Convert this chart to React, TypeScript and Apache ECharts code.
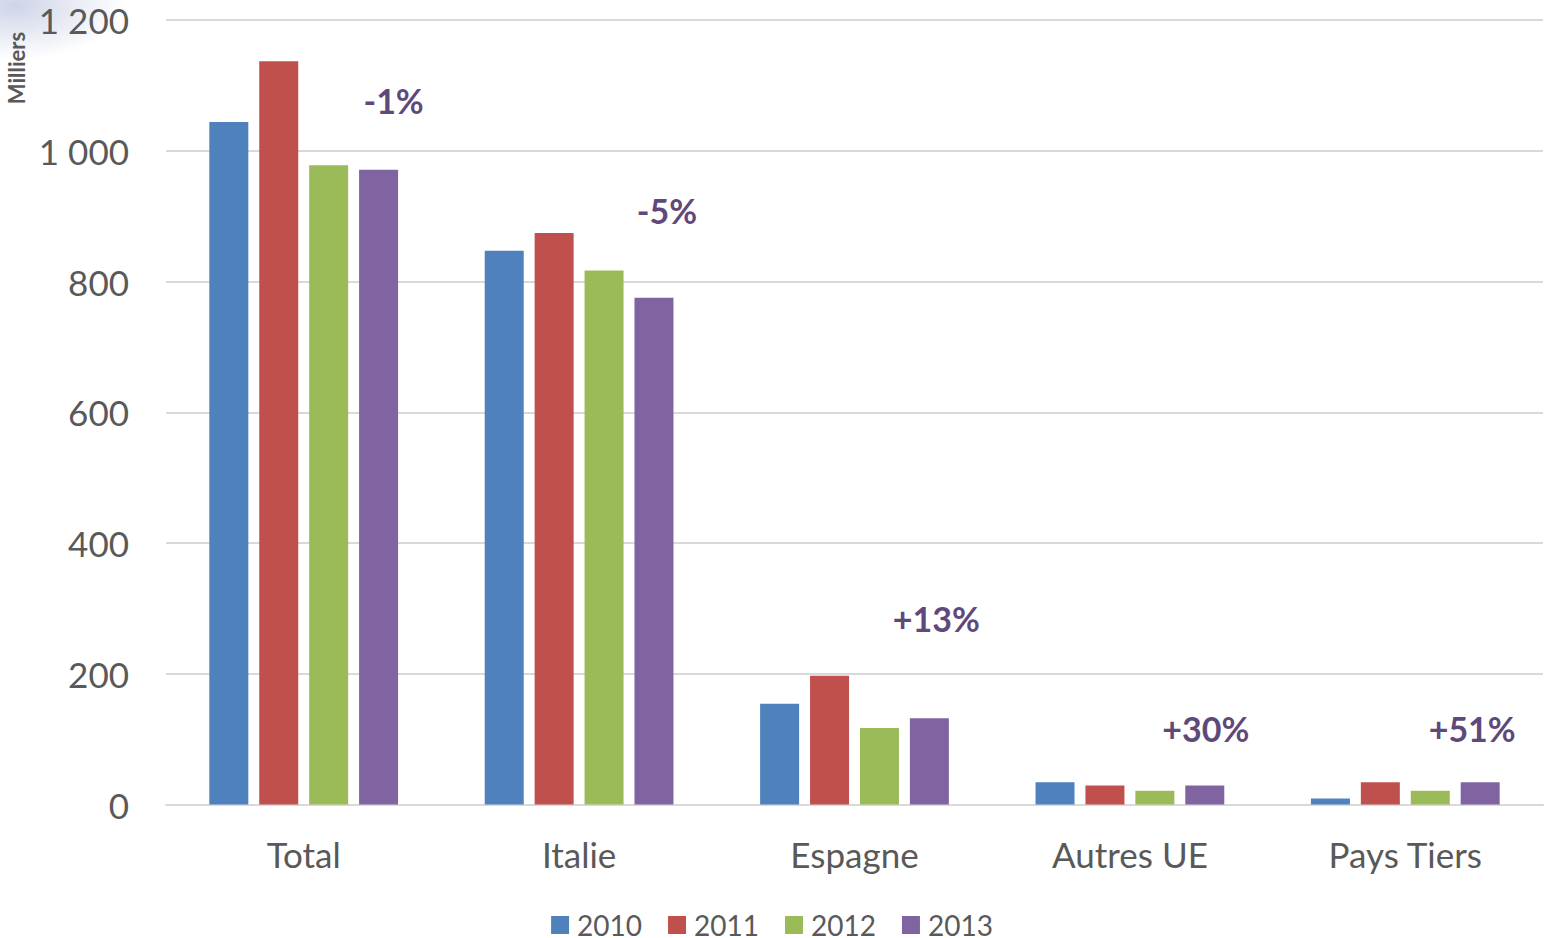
import React, { useEffect, useRef } from "react";
import * as echarts from "echarts";

const categories = ["Total", "Italie", "Espagne", "Autres UE", "Pays Tiers"];
const years = ["2010", "2011", "2012", "2013"];
const values2010 = [1044, 847, 154, 34, 9];
const values2011 = [1137, 874, 197, 29, 34];
const values2012 = [978, 817, 117, 21, 21];
const values2013 = [971, 775, 132, 29, 34];
const changeLabels = ["-1%", "-5%", "+13%", "+30%", "+51%"];
const changeLabelLevels = [1077, 908, 285, 117, 117];
const yTicks = [0, 200, 400, 600, 800, 1000, 1200];

const seriesValues = [values2010, values2011, values2012, values2013];
const colors = ["#4f81bd", "#c0504d", "#9bbb59", "#8064a2"];
const labelDx = [15, 13, 7, 1, -8];
const FONT = "Lato, 'Open Sans', sans-serif";

function fmt(v: number): string {
  return String(v).replace(/\B(?=(\d{3})+(?!\d))/g, " ");
}

export default function App() {
  const ref = useRef<HTMLDivElement>(null);
  useEffect(() => {
    document.body.style.margin = "0";
    if (!ref.current) return;
    const chart = echarts.init(ref.current, null, { renderer: "svg" });
    const series: any[] = seriesValues.map((vals, i) => ({
      name: years[i],
      type: "bar",
      data: vals,
      barWidth: 39,
      barGap: "28%",
      itemStyle: { color: colors[i] },
      z: 2,
    }));
    series[3].markPoint = {
      symbol: "circle",
      symbolSize: 0,
      silent: true,
      label: {
        show: true,
        position: "inside",
        color: "#5f497a",
        fontFamily: FONT,
        fontWeight: "bold",
        fontSize: 34,
        formatter: (p: any) => p.name,
      },
      data: changeLabels.map((t, i) => ({
        name: t,
        coord: [i, changeLabelLevels[i]],
        label: { offset: [labelDx[i], 0] },
      })),
    };
    chart.setOption({
      animation: false,
      backgroundColor: "#ffffff",
      color: colors,
      textStyle: { fontFamily: FONT },
      grid: { left: 166, right: 1, top: 20, bottom: 133.5, containLabel: false },
      legend: {
        data: years,
        left: "center",
        top: 906,
        icon: "rect",
        itemWidth: 18,
        itemHeight: 18,
        itemGap: 26,
        textStyle: { color: "#595959", fontSize: 28, lineHeight: 28, fontFamily: FONT, padding: [0, 0, 0, 3] },
      },
      xAxis: {
        type: "category",
        data: categories,
        axisLine: { show: true, lineStyle: { color: "#d9d9d9", width: 2 } },
        axisTick: { show: false },
        axisLabel: { color: "#595959", fontSize: 35, fontFamily: FONT, margin: 32 },
      },
      yAxis: {
        type: "value",
        min: yTicks[0],
        max: yTicks[yTicks.length - 1],
        interval: yTicks[1] - yTicks[0],
        axisLine: { show: false },
        axisTick: { show: false },
        splitLine: { lineStyle: { color: "#d9d9d9", width: 2 } },
        axisLabel: {
          color: "#595959",
          fontSize: 35,
          fontFamily: FONT,
          margin: 37,
          formatter: (v: number) => fmt(v),
        },
      },
      graphic: [
        {
          type: "ellipse",
          shape: { cx: 15, cy: 5, rx: 110, ry: 55 },
          z: -1,
          silent: true,
          style: {
            fill: new echarts.graphic.RadialGradient(0.5, 0.5, 0.5, [
              { offset: 0, color: "rgba(190,198,225,0.75)" },
              { offset: 1, color: "rgba(190,198,225,0)" },
            ]),
          },
        },
        {
          type: "text",
          x: 16,
          y: 68,
          rotation: Math.PI / 2,
          style: {
            text: "Milliers",
            fill: "#595959",
            font: `bold 22px ${FONT}`,
            align: "center",
            verticalAlign: "middle",
          },
        },
      ],
      series,
    });
    return () => chart.dispose();
  }, []);
  return <div ref={ref} style={{ position: "absolute", left: 0, top: 0, width: 1544, height: 938 }} />;
}
